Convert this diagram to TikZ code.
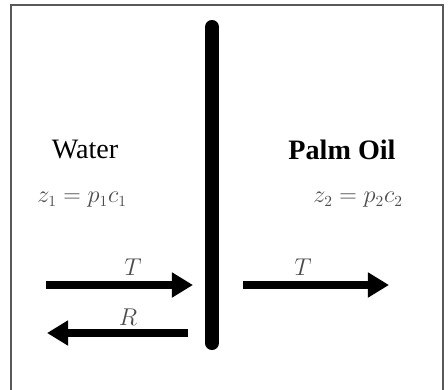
\documentclass[tikz,border=0pt]{standalone}
\usepackage{amsmath}
\usepackage{fontspec}
\setmainfont{Liberation Serif}
\usepackage{tikz}
\usetikzlibrary{arrows.meta,positioning}
\usepackage{xcolor}
\definecolor{framegray}{gray}{0.35}
\definecolor{labgray}{gray}{0.3}

\begin{document}
\begin{tikzpicture}[x=0.025cm, y=-0.025cm,
	flow/.style={line width=5.6pt, -{Triangle[length=15pt, width=17pt]}},
	medium/.style={font=\fontsize{20}{22}\selectfont},
	eqn/.style={text=labgray, font=\fontsize{16}{18}\selectfont},
	lab/.style={text=labgray, font=\fontsize{16}{18}\selectfont, inner sep=1pt}]

	\def\ytop{285} \def\ybot{333} % heights of the arrows

	% page and frame
	\useasboundingbox (0,0) rectangle (448,389);
	\draw[framegray, line width=1.2pt] (11,400) -- (11,5) -- (443,5) -- (443,400);

	% interface
	\draw[line width=10pt, line cap=round] (212,27) -- (212,343);

	% the two media
	\node[medium] (water) at (85,150) {Water};
	\node[medium, font=\fontsize{20}{22}\selectfont\bfseries] (oil) at (342,150) {Palm Oil};
	\node[eqn] (zw) at (82,200) {$z_1 = p_1c_1$};
	\node[eqn] (zo) at (358,200) {$z_2 = p_2c_2$};

	% arrow ends
	\coordinate (inL) at (46,\ytop);
	\coordinate (inR) at (193,\ytop);
	\coordinate (reL) at (47,\ybot);
	\coordinate (reR) at (188,\ybot);
	\coordinate (trL) at (243,\ytop);
	\coordinate (trR) at (389,\ytop);

	% incident, reflected, transmitted
	\draw[flow] (inL) -- (inR);
	\draw[flow] (reR) -- (reL);
	\draw[flow] (trL) -- (trR);

	\node[lab] (tin) at (133,267) {$T$};
	\node[lab] (rre) at (128,317) {$R$};
	\node[lab] (ttr) at (303,267) {$T$};
\end{tikzpicture}
\end{document}
